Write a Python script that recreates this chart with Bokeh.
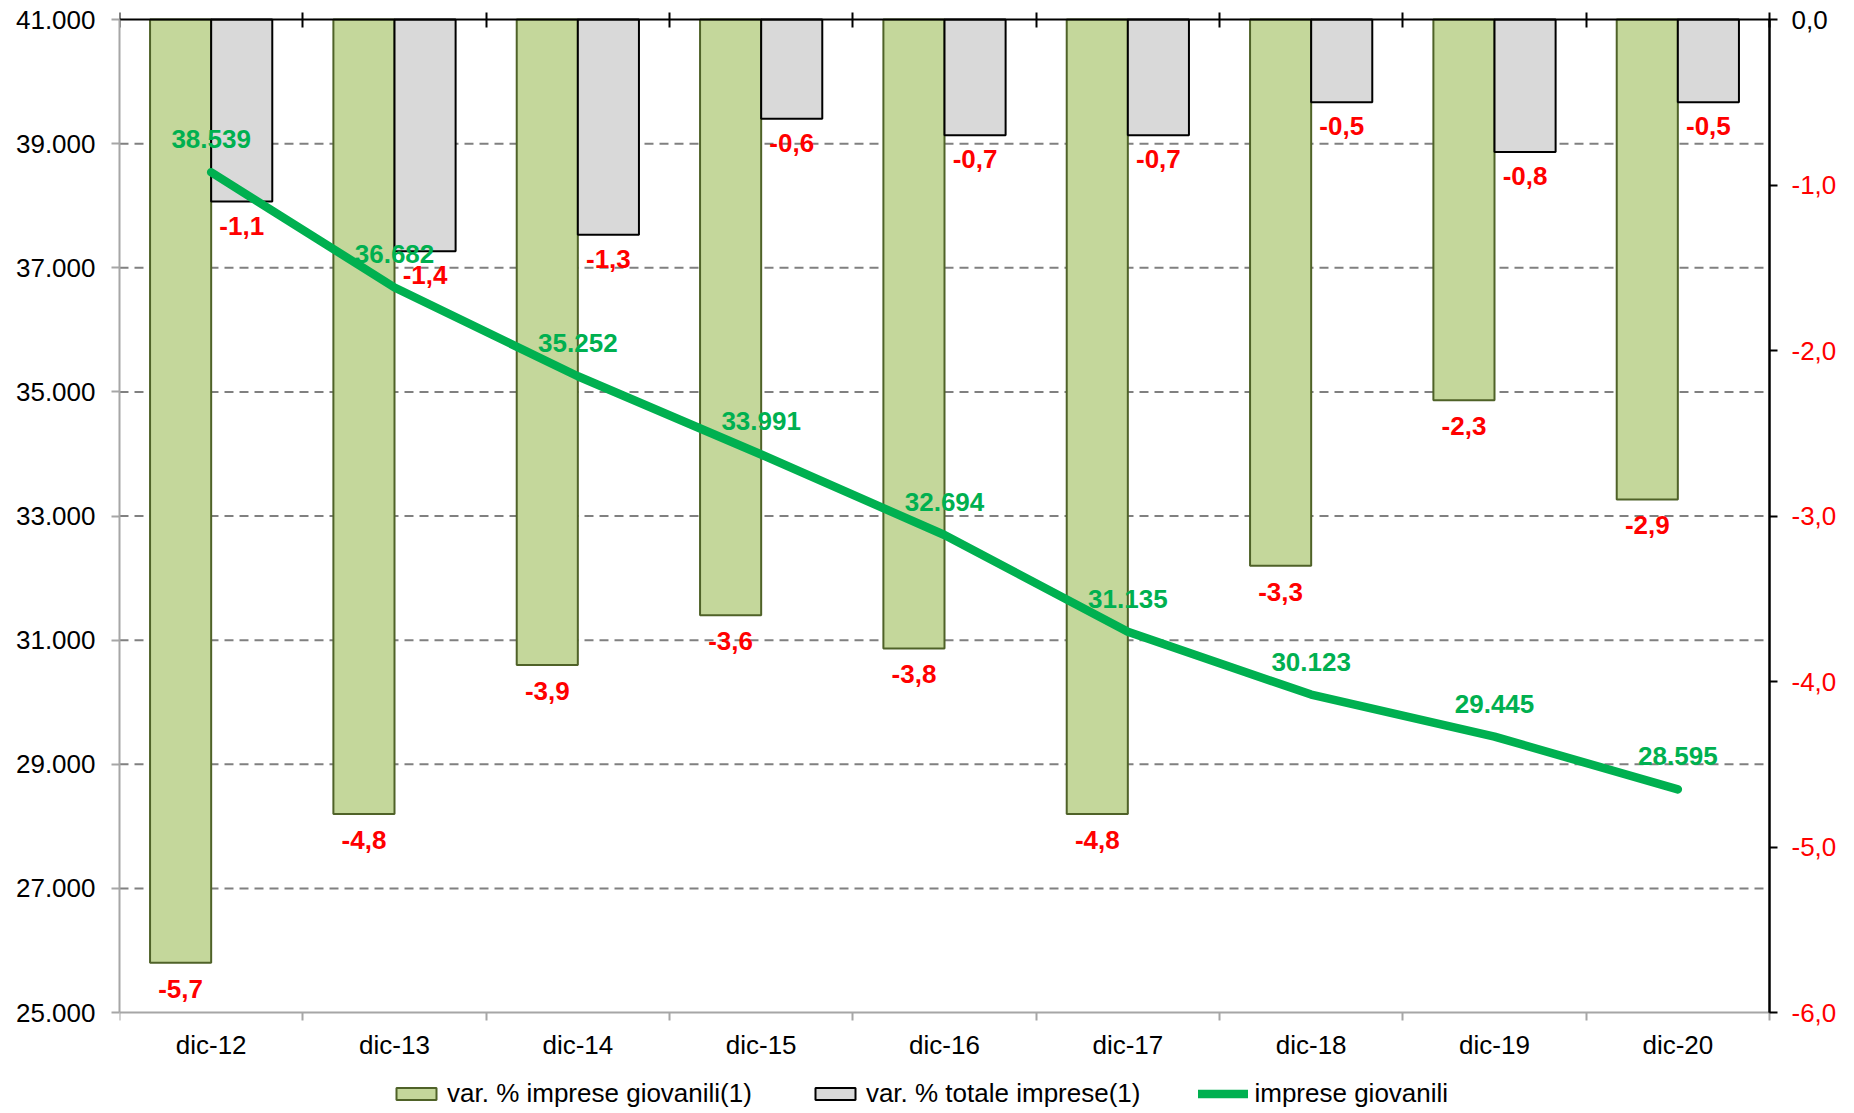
from bokeh.plotting import figure
from bokeh.models import (Range1d, LinearAxis, FixedTicker, Legend, LegendItem,
                          ColumnDataSource)
from bokeh.embed import file_html
from bokeh.resources import INLINE
from bokeh.core.properties import value

categories = ["dic-12", "dic-13", "dic-14", "dic-15", "dic-16", "dic-17", "dic-18", "dic-19", "dic-20"]
var_imprese_giovanili = [-5.7, -4.8, -3.9, -3.6, -3.8, -4.8, -3.3, -2.3, -2.9]
var_totale_imprese = [-1.1, -1.4, -1.3, -0.6, -0.7, -0.7, -0.5, -0.8, -0.5]
imprese_giovanili = [38539, 36682, 35252, 33991, 32694, 31135, 30123, 29445, 28595]
left_ticks = [25000, 27000, 29000, 31000, 33000, 35000, 37000, 39000, 41000]
right_ticks = [-6.0, -5.0, -4.0, -3.0, -2.0, -1.0, 0.0]

FONT = "Liberation Sans"
GREEN_LINE = "#00b050"
RED = "#ff0000"
AXIS_GRAY = "#a6a6a6"

# layout constants (pixels)
PLOT_H = 993          # height of the value area (25.000 .. 41.000)
PAD_TOP = 19          # frame extends above the value area (room for the "0,0" label)
PAD_BOTTOM = 99       # frame extends below the value area (category labels + legend)
PLOT_W = 1650         # width of the category area
FRAME_W = 1730        # frame extends right of the value area (right labels)
FRAME_H = PLOT_H + PAD_TOP + PAD_BOTTOM
ex_lo = PAD_BOTTOM / PLOT_H
ex_hi = PAD_TOP / PLOT_H

n = len(categories)
bw = 1.0 / 3.0
xc = [i + 0.5 for i in range(n)]
x_g = [x - bw / 2 for x in xc]
x_t = [x + bw / 2 for x in xc]
bounds = [float(i) for i in range(n + 1)]

l_lo, l_hi = left_ticks[0], left_ticks[-1]
r_lo, r_hi = right_ticks[0], right_ticks[-1]

def it_thousands(v):
    return f"{v:,}".replace(",", ".")

def it_dec(v):
    return f"{v:.1f}".replace(".", ",")

p = figure(frame_width=FRAME_W, frame_height=FRAME_H,
           x_range=Range1d(0, n * FRAME_W / PLOT_W),
           y_range=Range1d(l_lo - ex_lo * (l_hi - l_lo), l_hi + ex_hi * (l_hi - l_lo)),
           output_backend="svg", toolbar_location=None,
           min_border_left=119, min_border_right=0,
           min_border_top=0, min_border_bottom=0)
p.extra_y_ranges = {"pct": Range1d(r_lo - ex_lo * (r_hi - r_lo), r_hi + ex_hi * (r_hi - r_lo))}
p.outline_line_color = None
p.background_fill_color = "white"

# grid lines (dashed) only across the category area
p.xgrid.visible = False
p.ygrid.visible = False
grid_vals = left_ticks[1:-1]
p.segment(x0=[0] * len(grid_vals), x1=[n] * len(grid_vals), y0=grid_vals, y1=grid_vals,
          line_color="#808080", line_width=2, line_dash="9 6", level="underlay")

# bottom axis (categories), sitting at 25.000
xa = p.xaxis[0]
xa.fixed_location = l_lo
xa.bounds = (0, n)
xa.ticker = FixedTicker(ticks=xc, minor_ticks=bounds)
xa.major_label_overrides = {x: c for x, c in zip(xc, categories)}
xa.major_tick_out = 0
xa.major_tick_in = 0
xa.minor_tick_out = 8
xa.minor_tick_in = 0
xa.minor_tick_line_color = AXIS_GRAY
xa.minor_tick_line_width = 2
xa.axis_line_color = AXIS_GRAY
xa.axis_line_width = 2
xa.major_label_text_font = FONT
xa.major_label_text_font_size = "26px"
xa.major_label_text_color = "black"
xa.major_label_standoff = 9

# left axis
ya = p.yaxis[0]
ya.bounds = (l_lo, l_hi)
ya.ticker = FixedTicker(ticks=left_ticks)
ya.major_label_overrides = {t: it_thousands(t) for t in left_ticks}
ya.major_tick_out = 8
ya.major_tick_in = 0
ya.minor_tick_out = 0
ya.minor_tick_in = 0
ya.major_tick_line_color = AXIS_GRAY
ya.major_tick_line_width = 2
ya.axis_line_color = AXIS_GRAY
ya.axis_line_width = 2
ya.major_label_text_font = FONT
ya.major_label_text_font_size = "26px"
ya.major_label_text_color = "black"
ya.major_label_standoff = 16

def right_axis(ticks, color, line_color):
    ax = LinearAxis(y_range_name="pct", ticker=FixedTicker(ticks=ticks),
                    bounds=(r_lo, r_hi), fixed_location=n)
    ax.major_label_overrides = {t: it_dec(t) for t in ticks}
    ax.major_tick_out = 8
    ax.major_tick_in = 0
    ax.minor_tick_out = 0
    ax.minor_tick_in = 0
    ax.major_tick_line_color = line_color
    ax.major_tick_line_width = 2
    ax.axis_line_color = line_color
    ax.axis_line_width = 2
    ax.major_label_text_font = FONT
    ax.major_label_text_font_size = "26px"
    ax.major_label_text_color = color
    ax.major_label_standoff = 14
    return ax

# right axis (percent): negative labels red, zero label black
p.add_layout(right_axis(right_ticks[:-1], RED, "black"), "right")
p.add_layout(right_axis([r_hi], "black", "black"), "right")

# top axis (secondary category axis crossing at 0)
ta = LinearAxis(ticker=FixedTicker(ticks=[], minor_ticks=bounds), bounds=(0, n),
                fixed_location=l_hi)
ta.major_tick_out = 0
ta.major_tick_in = 0
ta.minor_tick_out = 7
ta.minor_tick_in = 8
ta.minor_tick_line_color = "black"
ta.minor_tick_line_width = 2
ta.axis_line_color = "black"
ta.axis_line_width = 2
ta.major_label_standoff = 0
ta.major_label_text_font_size = "0px"
p.add_layout(ta, "above")

# bars
r_g = p.vbar(x=x_g, top=0, bottom=var_imprese_giovanili, width=bw, y_range_name="pct",
             fill_color="#c4d79b", line_color="#4f6228", line_width=2)
r_t = p.vbar(x=x_t, top=0, bottom=var_totale_imprese, width=bw, y_range_name="pct",
             fill_color="#d9d9d9", line_color="black", line_width=2)

# line
r_l = p.line(xc, imprese_giovanili, line_color=GREEN_LINE, line_width=8.5, line_cap="round",
             line_join="round")

# labels
src_line = ColumnDataSource(dict(x=xc, y=imprese_giovanili,
                                 t=[it_thousands(v) for v in imprese_giovanili]))
p.text(x="x", y="y", text="t", source=src_line, y_offset=-33,
       text_align="center", text_baseline="middle", text_color=GREEN_LINE,
       text_font=value(FONT), text_font_style="bold", text_font_size="26px")

src_g = ColumnDataSource(dict(x=x_g, y=var_imprese_giovanili,
                              t=[it_dec(v) for v in var_imprese_giovanili]))
p.text(x="x", y="y", text="t", source=src_g, y_range_name="pct", y_offset=26,
       text_align="center", text_baseline="middle", text_color=RED,
       text_font=value(FONT), text_font_style="bold", text_font_size="26px")

src_t = ColumnDataSource(dict(x=x_t, y=var_totale_imprese,
                              t=[it_dec(v) for v in var_totale_imprese]))
p.text(x="x", y="y", text="t", source=src_t, y_range_name="pct", y_offset=24,
       text_align="center", text_baseline="middle", text_color=RED,
       text_font=value(FONT), text_font_style="bold", text_font_size="26px")

legend = Legend(items=[
    LegendItem(label="var. % imprese giovanili(1)", renderers=[r_g]),
    LegendItem(label="var. % totale imprese(1)", renderers=[r_t]),
    LegendItem(label="imprese giovanili", renderers=[r_l]),
], orientation="horizontal", location=(272, 2),
    glyph_width=50, glyph_height=15, label_standoff=6, spacing=58,
    border_line_color=None, background_fill_alpha=0, padding=0, margin=0,
    label_text_font=FONT, label_text_font_size="26px", label_text_color="black",
    label_height=20)
p.add_layout(legend)

open("out.html", "w").write(file_html(p, INLINE))
